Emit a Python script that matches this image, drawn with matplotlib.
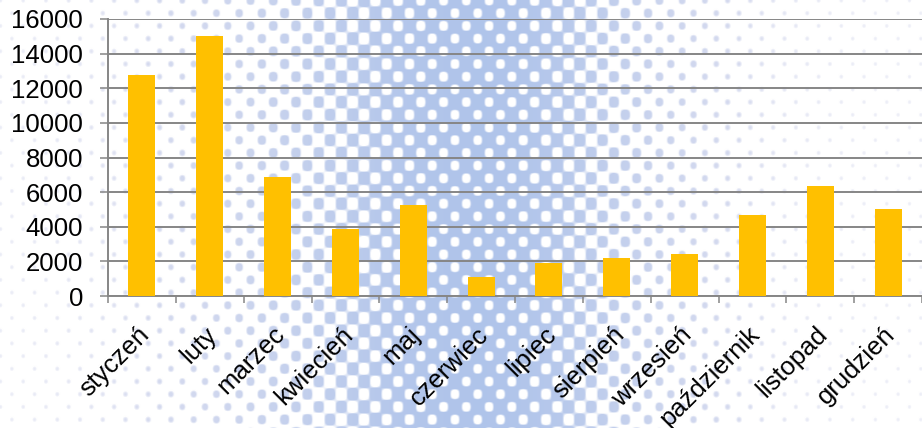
import numpy as np
import matplotlib
matplotlib.use("Agg")
import matplotlib.pyplot as plt
from matplotlib.ticker import MultipleLocator, FixedLocator
import matplotlib.transforms as mtransforms

# data
months = ["styczeń", "luty", "marzec", "kwiecień", "maj", "czerwiec", "lipiec",
          "sierpień", "wrzesień", "październik", "listopad", "grudzień"]
values = [12750, 15000, 6900, 3850, 5250, 1100, 1900, 2200, 2450, 4700, 6350, 5000]

W, H = 922, 428
plt.rcParams['font.family'] = ['Liberation Sans', 'DejaVu Sans']

fig = plt.figure(figsize=(W / 100, H / 100), dpi=100)

# halftone background (decoration only)
yy, xx = np.mgrid[0:H, 0:W].astype(float)
sig = np.where(xx < 480, 235, 180)
c = 0.69 * np.exp(-((xx - 480) / sig) ** 2)
s = (1 + np.cos(2 * np.pi * xx / 22.7) * np.cos(2 * np.pi * yy / 25.4)) / 2
cov = np.clip((s - (1 - c)) * 6 + 0.5, 0, 1)
strength = np.clip(c / 0.69, 0, 1)
blue = np.array([0.69, 0.77, 0.92])
fade = np.array([0.86, 0.87, 0.94])
col = fade[None, None, :] * (1 - strength[..., None]) + blue[None, None, :] * strength[..., None]
img = 1 - cov[..., None] * (1 - col)
bg = fig.add_axes([0, 0, 1, 1], zorder=0)
bg.imshow(img, extent=(0, W, H, 0), aspect='auto', interpolation='bilinear')
bg.axis('off')

ax = fig.add_axes([108 / W, (H - 296) / H, (W - 108) / W, (296 - 19) / H], zorder=1)
ax.set_facecolor('none')
x = np.arange(len(months))
ax.bar(x, values, width=0.4, color='#FFC000', zorder=3)

ax.set_xlim(-0.5, len(months) - 0.5)
ax.set_ylim(0, 16000)
ax.yaxis.set_major_locator(MultipleLocator(2000))
ax.grid(axis='y', color='#868686', linewidth=1.4, zorder=1)

gray = '#868686'
for sp in ['top', 'right']:
    ax.spines[sp].set_visible(False)
for sp in ['left', 'bottom']:
    ax.spines[sp].set_color(gray)
    ax.spines[sp].set_linewidth(1.4)

ax.tick_params(axis='y', length=6, width=1.1, color=gray, labelsize=18.5, pad=12)
ax.set_xticks(x)
ax.set_xticklabels(months, rotation=45, ha='right', va='top',
                   rotation_mode='anchor', fontsize=18.5)
ax.tick_params(axis='x', which='major', length=0, pad=19)
ax.xaxis.set_minor_locator(FixedLocator(np.arange(-0.5, len(months), 1.0)))
ax.tick_params(axis='x', which='minor', length=5, width=1.1, color=gray)
offset = mtransforms.ScaledTranslation(-5 / 100, 0, fig.dpi_scale_trans)
for lab in ax.get_xticklabels():
    lab.set_transform(lab.get_transform() + offset)

fig.savefig('out.png', dpi=100)
